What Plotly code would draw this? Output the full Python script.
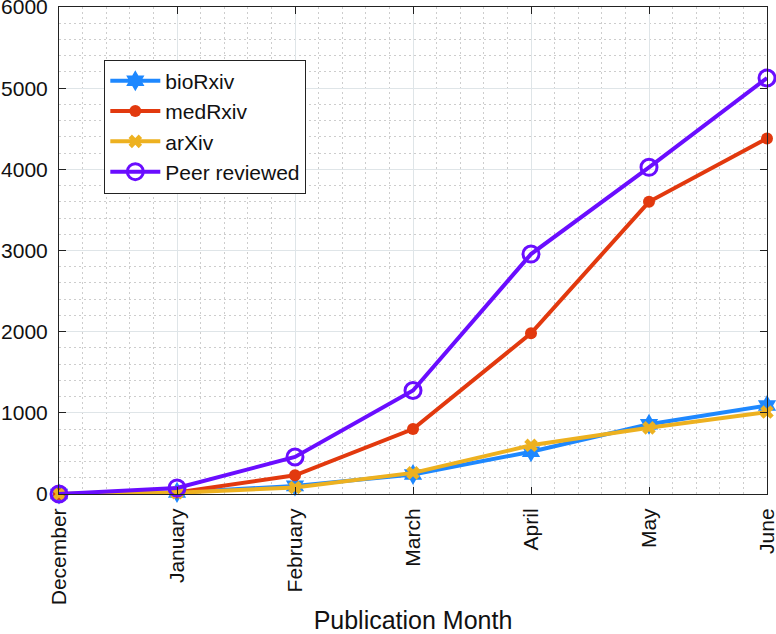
import plotly.graph_objects as go

months = ["December", "January", "February", "March", "April", "May", "June"]
biorxiv = [0, 20, 100, 240, 520, 860, 1090]
medrxiv = [0, 20, 230, 800, 1980, 3600, 4380]
arxiv = [0, 15, 80, 260, 600, 815, 1010]
peer = [0, 75, 456, 1275, 2956, 4025, 5125]

x = list(range(len(months)))

fig = go.Figure()
series = [
    ("bioRxiv", biorxiv, "#1E88FF", dict(symbol="hexagram", size=16)),
    ("medRxiv", medrxiv, "#E2390E", dict(symbol="circle", size=12)),
    ("arXiv", arxiv, "#EDB120", dict(symbol="x", size=12)),
    ("Peer reviewed", peer, "#6A0DFF", dict(symbol="circle-open", size=16, line=dict(width=3))),
]
for name, vals, col, mk in series:
    m = dict(color=col, **mk)
    if "line" in m:
        m["line"]["color"] = col
    fig.add_trace(go.Scatter(x=x, y=vals, name=name, mode="lines+markers",
                             line=dict(color=col, width=4), marker=m, cliponaxis=False))

font = "Liberation Sans, Arial, Helvetica, sans-serif"
XR = [0, 6]
YR = [0, 6000]
common = dict(
    showline=True, linecolor="#222", linewidth=1, mirror="allticks",
    ticks="inside", ticklen=7, tickcolor="#222",
    showgrid=True, gridcolor="#dfe5e8", gridwidth=1,
    zeroline=False, automargin=False, ticklabeloverflow="allow",
    tickfont=dict(size=21),
)
minor_style = dict(showgrid=True, griddash="2px,3px", gridcolor="#cdcdcd", ticks="")
fig.update_layout(
    width=776, height=634,
    margin=dict(l=59, r=9, t=7, b=140),
    paper_bgcolor="white", plot_bgcolor="white",
    font=dict(family=font, size=20, color="#111"),
    showlegend=True,
    legend=dict(x=0.064, y=0.892, xanchor="left", yanchor="top",
                bordercolor="#222", borderwidth=1, bgcolor="white",
                font=dict(size=21), tracegroupgap=0, itemwidth=50),
    xaxis=dict(range=XR, tickvals=x, ticktext=months, tickangle=-90,
               ticklabelstandoff=5,
               minor=dict(dtick=0.2, **minor_style),
               title=dict(text="Publication Month", font=dict(size=25), standoff=9),
               **common),
    yaxis=dict(range=YR, dtick=1000, ticklabelstandoff=6,
               minor=dict(dtick=200, **minor_style),
               **common),
)
fig.write_html("out.html", config={"displayModeBar": False},
               post_script="document.body.style.margin='0';")
